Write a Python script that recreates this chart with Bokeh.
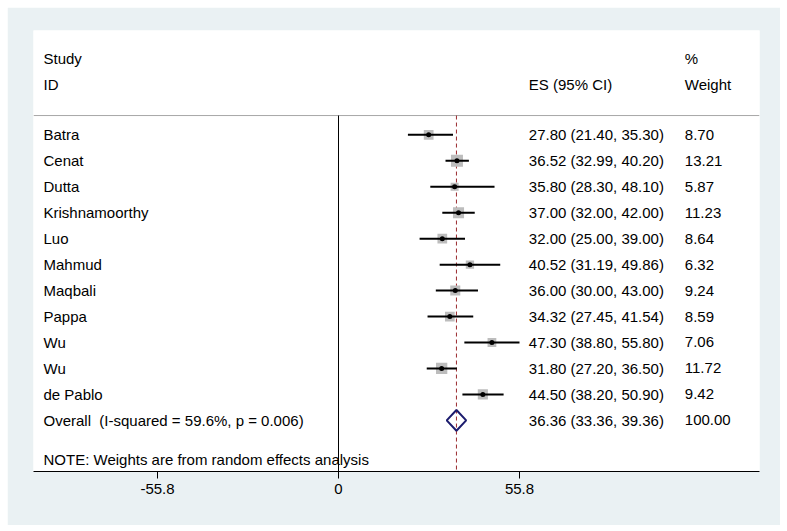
from bokeh.plotting import figure
from bokeh.models import Range1d, FixedTicker, ColumnDataSource
from bokeh.core.properties import value
from bokeh.embed import file_html
from bokeh.resources import INLINE
import math

# ---- data ----
studies = ["Batra", "Cenat", "Dutta", "Krishnamoorthy", "Luo", "Mahmud",
           "Maqbali", "Pappa", "Wu", "Wu", "de Pablo"]
es = [27.80, 36.52, 35.80, 37.00, 32.00, 40.52, 36.00, 34.32, 47.30, 31.80, 44.50]
lo = [21.40, 32.99, 28.30, 32.00, 25.00, 31.19, 30.00, 27.45, 38.80, 27.20, 38.20]
hi = [35.30, 40.20, 48.10, 42.00, 39.00, 49.86, 43.00, 41.54, 55.80, 36.50, 50.90]
weights = [8.70, 13.21, 5.87, 11.23, 8.64, 6.32, 9.24, 8.59, 7.06, 11.72, 9.42]
overall_es, overall_lo, overall_hi, overall_w = 36.36, 33.36, 39.36, 100.00
i_squared, p_het = 59.6, 0.006
tick_values = [-55.8, 0, 55.8]
tick_labels = ["-55.8", "0", "55.8"]

FONT = "Liberation Sans"
FS = "15px"

p = figure(width=773, height=518, output_backend="svg", toolbar_location=None,
           x_range=Range1d(-94.03, 129.79), y_range=Range1d(12.97, -4.02),
           y_axis_type=None,
           min_border_left=26, min_border_right=21, min_border_top=23, min_border_bottom=54)
p.margin = (7, 0, 0, 7)
p.background_fill_color = "white"
p.border_fill_color = "#eaf1f3"
p.outline_line_color = None
p.xgrid.visible = False
p.ygrid.visible = False

rows = list(range(len(studies)))
overall_row = len(studies)

src = ColumnDataSource(dict(
    y=rows, es=es, lo=lo, hi=hi, study=studies,
    size=[3.3 * math.sqrt(w) for w in weights],
    estxt=[f"{e:.2f} ({l:.2f}, {h:.2f})" for e, l, h in zip(es, lo, hi)],
    wtxt=[f"{w:.2f}" for w in weights],
))

# header separator line
p.segment(x0=[-94.03], x1=[129.79], y0=[-0.744], y1=[-0.744], line_color="#a8a8a8", line_width=1)
# null line at 0
p.segment(x0=[0], x1=[0], y0=[-0.744], y1=[12.97], line_color="black", line_width=1)
# overall dashed line
p.segment(x0=[overall_es], x1=[overall_es], y0=[-0.744], y1=[12.97],
          line_color="#9a2a2e", line_width=1, line_dash="4 3")

# boxes, CIs, points
p.scatter(x="es", y="y", size="size", marker="square", source=src,
          fill_color="#bdbdbd", line_color=None)
p.segment(x0="lo", x1="hi", y0="y", y1="y", source=src, line_color="black", line_width=2)
p.scatter(x="es", y="y", size=5, marker="circle", source=src,
          fill_color="black", line_color=None)

# overall diamond
p.patch(x=[overall_lo, overall_es, overall_hi, overall_es],
        y=[overall_row, overall_row - 0.4, overall_row, overall_row + 0.4],
        fill_color=None, line_color="#1c1c6e", line_width=2)

# text columns
X_STUDY, X_ES, X_W = -90.95, 58.67, 106.76
tkw = dict(text_font=value(FONT), text_font_size=FS, text_baseline="middle",
           text_align="left", text_color="black")
p.text(x=X_STUDY, y="y", text="study", source=src, **tkw)
p.text(x=X_ES, y="y", text="estxt", source=src, **tkw)
p.text(x=X_W, y="y", text="wtxt", source=src, **tkw)

p.text(x=[X_STUDY], y=[overall_row],
       text=[f"Overall\u00a0 (I-squared = {i_squared}%, p = {p_het:.3f})"], **tkw)
p.text(x=[X_ES], y=[overall_row],
       text=[f"{overall_es:.2f} ({overall_lo:.2f}, {overall_hi:.2f})"], **tkw)
p.text(x=[X_W], y=[overall_row], text=[f"{overall_w:.2f}"], **tkw)
p.text(x=[X_STUDY], y=[12.51], text=["NOTE: Weights are from random effects analysis"], **tkw)

# headers
p.text(x=[X_STUDY, X_STUDY, X_ES, X_W, X_W], y=[-2.94, -1.94, -1.94, -2.94, -1.94],
       text=["Study", "ID", "ES (95% CI)", "%", "Weight"], **tkw)

# axis
ax = p.xaxis[0]
ax.ticker = FixedTicker(ticks=tick_values)
ax.major_label_overrides = {v: l for v, l in zip(tick_values, tick_labels)}
ax.minor_tick_line_color = None
ax.major_tick_out = 7
ax.major_tick_in = 0
ax.axis_line_color = "black"
ax.major_tick_line_color = "black"
ax.major_label_text_font = FONT
ax.major_label_text_font_size = FS
ax.major_label_text_color = "black"
ax.major_label_standoff = 5

open("out.html", "w").write(file_html(p, INLINE))
